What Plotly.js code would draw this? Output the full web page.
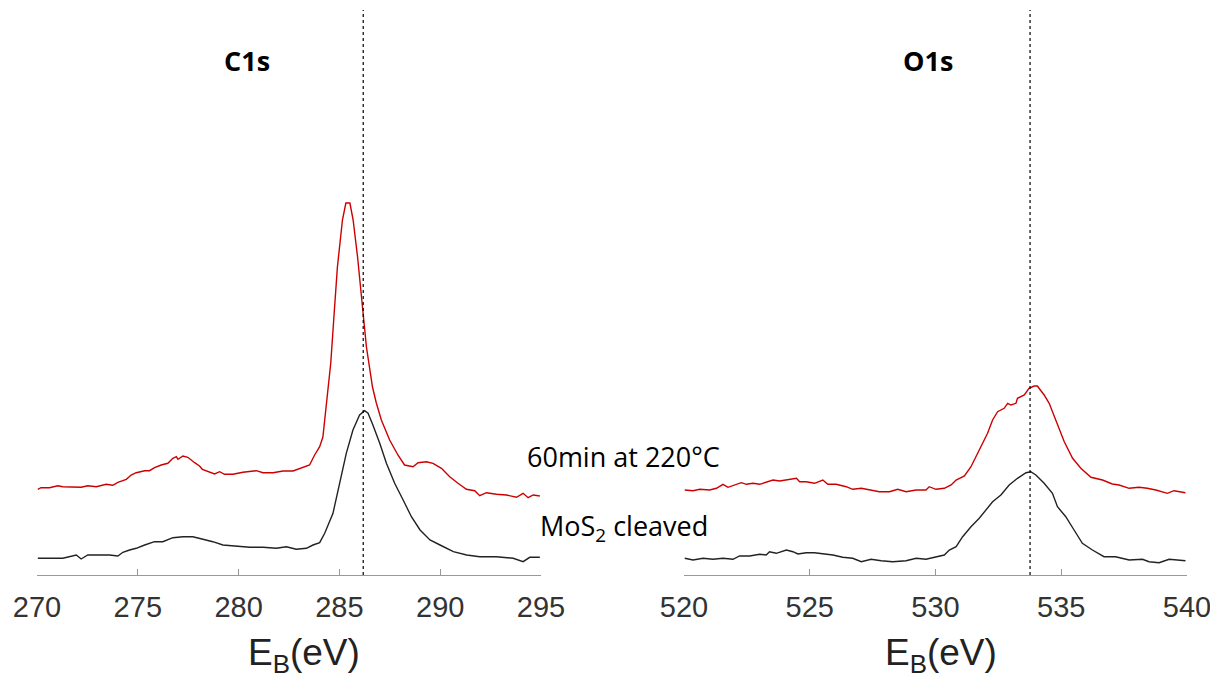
<!DOCTYPE html>
<html><head><meta charset="utf-8">
<script src="https://cdn.plot.ly/plotly-3.0.1.min.js"></script>
<style>body{margin:0;background:#fff}#plot{width:1210px;height:676px}</style>
</head><body><div id="plot"></div>
<script>
// C1s region: after 60 min at 220 °C (red)
const c1sRedE = [270.04,270.2,270.62,271.03,271.28,271.78,272.19,272.52,272.94,273.43,273.76,274.01,274.43,274.67,274.92,275.34,275.58,275.83,276.16,276.49,276.74,276.91,276.99,277.24,277.48,277.82,278.06,278.2,278.56,278.81,279.06,279.3,279.72,280.21,280.88,281.21,281.71,282.2,282.7,283.19,283.52,283.77,284.02,284.18,284.4,284.57,284.74,284.9,285.15,285.32,285.52,285.68,285.9,286.14,286.34,286.64,286.83,287.08,287.49,287.9,288.23,288.65,288.9,289.31,289.64,290.06,290.47,290.88,291.3,291.71,291.96,292.29,292.79,293.28,293.78,294.11,294.36,294.61,294.94];
const c1sRedI = [85.7,87.3,87.3,89.3,88.3,88.3,87.7,89.3,88.3,90.7,89.7,92.7,95.7,100,102.3,104.3,104.3,107.3,110,111.7,116.7,118.3,115.7,119,117.7,112.3,109,105.7,102.7,101,103.3,100.7,100.7,102.7,104.3,102.3,102.3,104,104,107.7,110,120,128.3,138,178,212,262,308,355,372,372,355,318,268,228,188,172,155,135,120,110,108.3,112.3,113.3,111.7,106.7,98.3,91.7,85.7,84.3,79.3,82.3,80.7,80,77.7,81.7,77.3,80,79];
// C1s region: MoS2 cleaved (black)
const c1sBlkE = [270.04,270.62,271.28,271.95,272.19,272.52,273.1,273.6,274.01,274.26,274.59,274.92,275.34,275.83,276.24,276.74,277.24,277.73,278.23,278.72,279.22,279.89,280.55,281.21,281.87,282.37,282.86,283.36,283.69,284.02,284.27,284.68,285.01,285.34,285.67,286.0,286.25,286.42,286.66,287.0,287.33,287.74,288.16,288.57,289.0,289.49,289.99,290.65,291.31,291.96,292.79,293.62,294.11,294.44,294.94];
const c1sBlkI = [16.7,16.7,16.7,20,16,20,20,20,19,22.7,25,26.7,30,33.3,33.3,37.3,38.3,38.3,35.7,33.3,30,29,27.7,27.7,26.7,28.3,25.7,26.7,30,32.3,41.7,61.7,91.7,121.7,145,160,164.3,161.7,150,131.7,111.7,91.7,75,58.3,45,35,30,23.3,20,18.3,18.3,16.7,13.3,17.7,17.7];
// O1s region: after 60 min at 220 °C (red)
const o1sRedE = [520.03,520.36,520.63,521.02,521.29,521.55,521.75,522.02,522.28,522.48,522.74,523.01,523.27,523.54,523.8,524.07,524.47,524.6,524.86,525.19,525.52,525.72,526.05,526.45,526.71,527.05,527.38,527.77,528.17,528.5,528.83,529.23,529.62,529.75,530.02,530.35,530.62,530.82,531.15,531.41,531.74,532.07,532.27,532.47,532.73,532.87,533.0,533.2,533.26,533.53,533.72,533.92,534.05,534.32,534.52,534.79,535.12,535.45,535.78,536.18,536.64,537.03,537.3,537.7,538.09,538.42,538.76,539.22,539.48,539.94];
const o1sRedI = [85,84.3,85.7,85,86.7,90.7,87.7,90,92.3,90.7,91.7,90.7,92.7,95,94,95,96.7,93.3,93.3,91.7,95,90.7,90.7,88.3,85.7,86.7,85,83.3,83.3,85.7,83.3,85,85,88.3,85.7,86.7,90,95,99,108.3,125,141.7,155,163.3,166.7,171.7,170,171.7,176.7,180,186.7,189,189,180,171.7,155,133.3,116.7,106.7,97.7,95,91,90,86.7,87.7,86.7,85,81.7,84.3,82.3];
// O1s region: MoS2 cleaved (black)
const o1sBlkE = [520.03,520.36,520.76,521.15,521.55,521.95,522.21,522.61,523.01,523.27,523.4,523.67,524.07,524.33,524.53,524.86,525.19,525.52,525.92,526.31,526.71,527.05,527.44,527.84,528.3,528.83,529.23,529.62,530.02,530.35,530.55,530.82,531.08,531.41,531.74,531.94,532.27,532.6,532.93,533.26,533.6,533.79,533.99,534.32,534.65,534.85,535.18,535.51,535.84,536.24,536.7,537.16,537.7,538.23,538.49,538.89,539.29,539.94];
const o1sBlkI = [16.7,15,16.7,15.7,16.7,15.7,19,19,20.7,20,23.3,21.7,25,23.3,21,22.3,22.3,21,20,17.7,16.7,13.3,15.7,14.3,13.3,14.3,16.7,15.7,18.3,20,25,28.3,38.3,48.3,56.7,63.3,73.3,80,90,96.7,102.3,103.3,100,91.7,81.7,68.3,58.3,45,31.7,25,18.3,18.3,15,15.7,13.3,12.3,15.7,14.3];
// reference peak positions (dotted lines)
const peakLines = [286.18, 533.76];
const panelLabels = ["C1s", "O1s"];
const seriesLabels = ["60min at 220°C", "MoS<sub>2</sub> cleaved"];
const axisTitle = "E<sub>B</sub>(eV)";
const tickValsC = [270,275,280,285,290,295];
const tickValsO = [520,525,530,535,540];

const red = '#cc0000', blk = '#222222';
const lw = 1.4;
const traces = [
  {x:c1sRedE,y:c1sRedI,xaxis:'x',yaxis:'y',mode:'lines',line:{color:red,width:lw},hoverinfo:'skip'},
  {x:c1sBlkE,y:c1sBlkI,xaxis:'x',yaxis:'y',mode:'lines',line:{color:blk,width:lw},hoverinfo:'skip'},
  {x:o1sRedE,y:o1sRedI,xaxis:'x2',yaxis:'y2',mode:'lines',line:{color:red,width:lw},hoverinfo:'skip'},
  {x:o1sBlkE,y:o1sBlkI,xaxis:'x2',yaxis:'y2',mode:'lines',line:{color:blk,width:lw},hoverinfo:'skip'},
  {x:[peakLines[0],peakLines[0]],y:[0,565],xaxis:'x',yaxis:'y',mode:'lines',line:{color:'#000',width:1.2,dash:'3px,3px'},hoverinfo:'skip'},
  {x:[peakLines[1],peakLines[1]],y:[0,565],xaxis:'x2',yaxis:'y2',mode:'lines',line:{color:'#000',width:1.2,dash:'3px,3px'},hoverinfo:'skip'}
];
const tickFont = {family:'Liberation Sans, Arial, sans-serif', size:29, color:'#333'};
const axCommon = {showgrid:false, zeroline:false, showline:true, linecolor:'#999', linewidth:1,
  ticks:'inside', ticklen:6, tickcolor:'#999', tickfont:tickFont, ticklabelstandoff:6, ticklabeloverflow:'allow'};
const titleFont = {family:'Liberation Sans, Arial, sans-serif', size:37, color:'#222'};
const labelFont = {family:'Open Sans, sans-serif', size:27, color:'#000'};
const boldFont = {family:'Open Sans, sans-serif', size:27, color:'#000'};
const layout = {
  width:1210, height:676, showlegend:false,
  paper_bgcolor:'#fff', plot_bgcolor:'#fff',
  margin:{l:37, r:23, t:10, b:101},
  xaxis:Object.assign({}, axCommon, {domain:[0,0.4383], range:[270,295], tickvals:tickValsC, anchor:'y'}),
  xaxis2:Object.assign({}, axCommon, {domain:[0.5626,1], range:[520,540], tickvals:tickValsO, anchor:'y2'}),
  yaxis:{domain:[0,1], range:[0,565], visible:false},
  yaxis2:{domain:[0,1], range:[0,565], visible:false, anchor:'x2'},
  annotations:[
    {text:'<b>'+panelLabels[0]+'</b>', xref:'paper', yref:'paper', x:0.1823, y:0.9106, xanchor:'center', yanchor:'middle', showarrow:false, font:boldFont},
    {text:'<b>'+panelLabels[1]+'</b>', xref:'paper', yref:'paper', x:0.775, y:0.9106, xanchor:'center', yanchor:'middle', showarrow:false, font:boldFont},
    {text:seriesLabels[0], xref:'paper', yref:'paper', x:0.51, y:0.2106, xanchor:'center', yanchor:'middle', showarrow:false, font:labelFont},
    {text:seriesLabels[1], xref:'paper', yref:'paper', x:0.51, y:0.0832, xanchor:'center', yanchor:'middle', showarrow:false, font:labelFont},
    {text:axisTitle, xref:'paper', yref:'paper', x:0.2322, y:-0.1416, xanchor:'center', yanchor:'middle', showarrow:false, font:titleFont},
    {text:axisTitle, xref:'paper', yref:'paper', x:0.7861, y:-0.1416, xanchor:'center', yanchor:'middle', showarrow:false, font:titleFont}
  ]
};
Plotly.newPlot('plot', traces, layout, {displayModeBar:false, staticPlot:true});
</script></body></html>
